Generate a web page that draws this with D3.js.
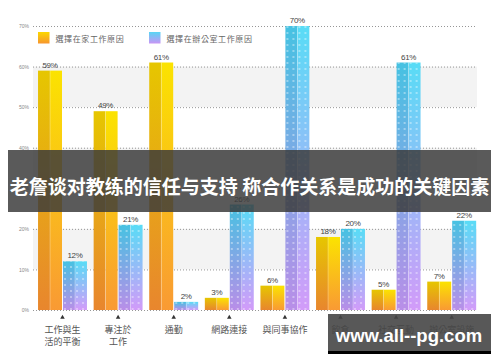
<!DOCTYPE html>
<html>
<head>
<meta charset="utf-8">
<script src="https://cdn.jsdelivr.net/npm/d3@7/dist/d3.min.js"></script>
<style>
html,body{margin:0;padding:0;background:#fff;}
svg{display:block;}
</style>
</head>
<body>
<svg id="chart" width="500" height="362"></svg>
<script>
const categories = ["工作與生活的平衡","專注於工作","通勤","網路連接","與同事協作","飲食","社交互動","辦公室設施"];
const categoryLines = [["工作與生","活的平衡"],["專注於","工作"],["通勤"],["網路連接"],["與同事協作"],["飲食"],["社交互動"],["辦公室設施"]];
const seriesNames = ["選擇在家工作原因","選擇在辦公室工作原因"];
const homeValues = [59,49,61,3,6,18,5,7];
const officeValues = [12,21,2,26,70,20,61,22];
const yTicks = [0,10,20,30,40,50,60,70];
const title = "老詹谈对教练的信任与支持 称合作关系是成功的关键因素";
const watermark = "www.all--pg.com";

const svg = d3.select("#chart");
const defs = svg.append("defs");

function grad(id, top, bottom){
  const g = defs.append("linearGradient").attr("id", id).attr("x1",0).attr("y1",0).attr("x2",0).attr("y2",1);
  g.append("stop").attr("offset","0%").attr("stop-color",top);
  g.append("stop").attr("offset","100%").attr("stop-color",bottom);
}
grad("homeL", "#e6c600", "#e8862e");
grad("homeR", "#fbe300", "#f99a34");
grad("offL", "#46c2e2", "#b98ee8");
grad("offR", "#58dcf6", "#d29bf9");
grad("homeLeg", "#fbd800", "#f7962e");
grad("offLeg", "#58d6f4", "#c895f5");

const pat = defs.append("pattern").attr("id","dots").attr("patternUnits","userSpaceOnUse")
  .attr("width",6).attr("height",6);
pat.append("circle").attr("cx",3).attr("cy",3).attr("r",0.9).attr("fill","rgba(255,255,255,0.55)");

const y = d3.scaleLinear().domain([0,70]).range([310,26]);
const x = d3.scaleBand().domain(categories).range([34.7,479.5]).paddingInner(0.12).paddingOuter(0.06);
const xs = d3.scaleBand().domain(["home","office"]).range([0,x.bandwidth()]).paddingInner(0.04);

const gridL = 33, gridR = 477;

// alternating bands
const bandPairs = [[10,20],[30,40],[50,60]];
svg.append("g").selectAll("rect").data(bandPairs).join("rect")
  .attr("x",gridL).attr("width",gridR-gridL)
  .attr("y",d=>y(d[1])).attr("height",d=>y(d[0])-y(d[1]))
  .attr("fill","#f3f3f3");

// grid lines
const yAxis = d3.axisLeft(y).tickValues(yTicks).tickSize(-(gridR-gridL)).tickFormat(d=>d+"%").tickPadding(4);
const ga = svg.append("g").attr("transform",`translate(${gridL},0)`).call(yAxis);
ga.select(".domain").remove();
ga.selectAll(".tick line").attr("stroke","#8a8a8a").attr("stroke-dasharray","1,2").attr("stroke-width",0.9);
ga.selectAll(".tick text").attr("font-size",5).attr("fill","#888").attr("font-family","Liberation Sans, Arial, sans-serif");

const rows = categories.map((c,i)=>({cat:c, home:homeValues[i], office:officeValues[i]}));

const groups = svg.append("g").selectAll("g").data(rows).join("g")
  .attr("transform",d=>`translate(${x(d.cat)},0)`);

function drawBar(g, key, val, gl, gr, dots){
  const bx = xs(key), bw = xs.bandwidth(), by = y(val), bh = y(0)-y(val);
  const half = bw/2;
  g.append("rect").attr("x",bx).attr("y",by).attr("width",half).attr("height",bh).attr("fill",`url(#${gl})`);
  g.append("rect").attr("x",bx+half).attr("y",by).attr("width",half).attr("height",bh).attr("fill",`url(#${gr})`);
  g.append("rect").attr("x",bx+half-0.3).attr("y",by).attr("width",0.6).attr("height",bh).attr("fill","rgba(255,255,255,0.45)");
  if(dots){
    g.append("rect").attr("x",bx).attr("y",by).attr("width",bw).attr("height",bh).attr("fill","url(#dots)");
  }
  g.append("text").attr("x",bx+bw/2).attr("y",by-3).attr("text-anchor","middle")
    .attr("font-size",8).attr("font-family","Liberation Sans, Arial, sans-serif").attr("fill","#444")
    .attr("letter-spacing",-0.3).text(val+"%");
}
groups.each(function(d){
  const g = d3.select(this);
  drawBar(g,"home",d.home,"homeL","homeR",false);
  drawBar(g,"office",d.office,"offL","offR",true);
});

// triangles & category labels
const tri = d3.symbol().type(d3.symbolTriangle).size(9);
svg.append("g").selectAll("path").data(categories).join("path")
  .attr("d",tri).attr("transform",d=>`translate(${x(d)+x.bandwidth()/2},317.5)`).attr("fill","#333");

const lab = svg.append("g").selectAll("text").data(categories).join("text")
  .attr("x",d=>x(d)+x.bandwidth()/2).attr("y",333).attr("text-anchor","middle")
  .attr("font-size",9).attr("font-family","'Noto Sans CJK TC', sans-serif").attr("fill","#555");
lab.each(function(d,i){
  const t = d3.select(this);
  categoryLines[i].forEach((ln,j)=>{
    t.append("tspan").attr("x",x(d)+x.bandwidth()/2).attr("dy",j===0?0:11.5).text(ln);
  });
});

// legend
const legend = svg.append("g");
const legX = [38,149];
const legFill = ["homeLeg","offLeg"];
seriesNames.forEach((n,i)=>{
  legend.append("rect").attr("x",legX[i]).attr("y",32).attr("width",11.5).attr("height",11.5).attr("fill",`url(#${legFill[i]})`);
  legend.append("text").attr("x",legX[i]+17.5).attr("y",41.5).attr("font-size",8).attr("letter-spacing",0.6)
    .attr("font-family","'Noto Sans CJK TC', sans-serif").attr("fill","#666").text(n);
});

// title banner
svg.append("rect").attr("x",8).attr("y",150).attr("width",483).attr("height",62).attr("fill","rgba(58,58,58,0.84)");
svg.append("text").attr("x",249.5).attr("y",194).attr("text-anchor","middle")
  .attr("font-size",19).attr("font-weight","bold").attr("font-family","'Noto Sans CJK SC', sans-serif")
  .attr("fill","#fff").text(title);

// watermark
svg.append("rect").attr("x",328).attr("y",314).attr("width",163).attr("height",37).attr("fill","rgba(70,70,70,0.9)");
svg.append("rect").attr("x",328).attr("y",351).attr("width",163).attr("height",3).attr("fill","#000");
svg.append("text").attr("x",409).attr("y",342).attr("text-anchor","middle")
  .attr("font-size",18.5).attr("font-weight","bold").attr("font-family","'Liberation Sans', Arial, sans-serif")
  .attr("fill","#fff").text(watermark);
</script>
</body>
</html>
